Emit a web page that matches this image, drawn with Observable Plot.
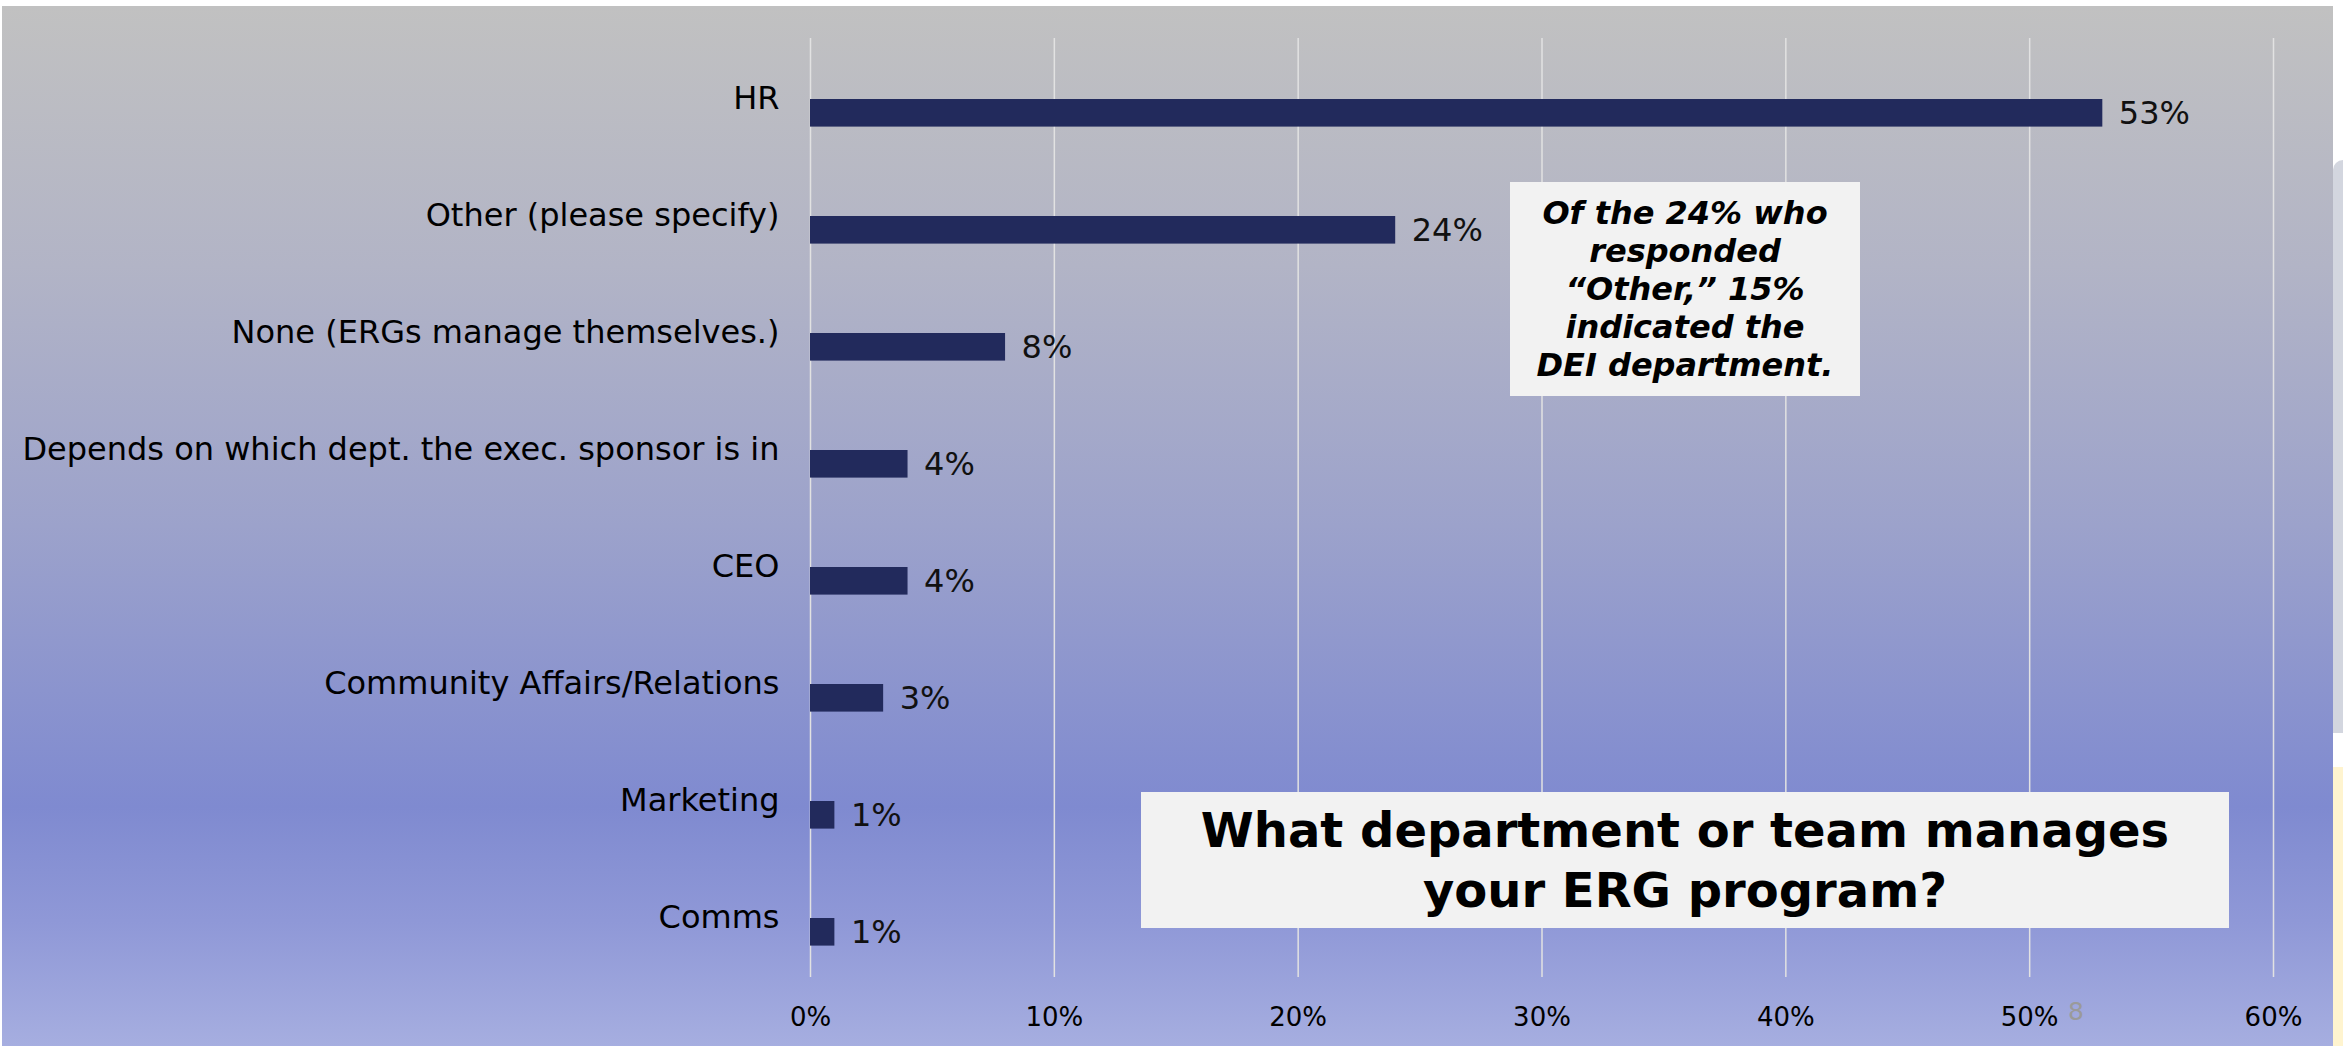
<!DOCTYPE html>
<html>
<head>
<meta charset="utf-8">
<script src="https://cdn.jsdelivr.net/npm/d3@7"></script>
<script src="https://cdn.jsdelivr.net/npm/@observablehq/plot@0.6"></script>
<style>
  html, body { margin: 0; padding: 0; background: #ffffff; }
  #stage { position: relative; width: 2343px; height: 1046px; overflow: hidden; background: #ffffff; font-family: "DejaVu Sans", Verdana, sans-serif; }
  #bg { position: absolute; left: 2px; top: 6px; width: 2331px; height: 1040px;
        background: linear-gradient(to bottom, #c1c1c1 0%, #b2b4c6 25%, #9ca2cb 50%, #7f8ad0 77%, #8f98d7 88%, #a6aee0 100%); }
  #deco1 { position: absolute; left: 2333px; top: 160px; width: 10px; height: 573px; background: #d3d6df; border-top-left-radius: 10px; }
  #deco2 { position: absolute; left: 2333px; top: 767px; width: 10px; height: 279px; background: #fff4cf; }
  #chart { position: absolute; left: 0; top: 0; }
  .box { position: absolute; background: #f2f2f2; display: flex; align-items: center; justify-content: center; text-align: center; color: #000; }
  #note { left: 1510px; top: 182px; width: 350px; height: 214px; font-size: 32px; line-height: 38px; font-weight: bold; font-style: italic; }
  #title { left: 1141px; top: 792px; width: 1088px; height: 136px; font-size: 48px; line-height: 60px; font-weight: bold; }
  #slideno { position: absolute; left: 2068px; top: 999px; font-size: 25px; line-height: 1; color: #9a9a9a; }
</style>
</head>
<body>
<div id="stage">
  <div id="bg"></div>
  <div id="deco1"></div>
  <div id="deco2"></div>
  <div id="chart"></div>
  <div id="note" class="box"><div id="noteText"></div></div>
  <div id="title" class="box"><div id="titleText"></div></div>
  <div id="slideno"></div>
</div>
<script>
const categories = [
  "HR",
  "Other (please specify)",
  "None (ERGs manage themselves.)",
  "Depends on which dept. the exec. sponsor is in",
  "CEO",
  "Community Affairs/Relations",
  "Marketing",
  "Comms"
];
const values = [0.53, 0.24, 0.08, 0.04, 0.04, 0.03, 0.01, 0.01];
const xTicks = [0, 0.1, 0.2, 0.3, 0.4, 0.5, 0.6];
const titleLines = ["What department or team manages", "your ERG program?"];
const noteLines = ["Of the 24% who", "responded", "\u201COther,\u201D 15%", "indicated the", "DEI department."];
const slideNumber = "8";

const data = categories.map((c, i) => ({category: c, value: values[i]}));
const pct = d3.format(".0%");

const chart = Plot.plot({
  width: 2343,
  height: 1046,
  marginLeft: 810,
  marginRight: 70,
  marginTop: 38,
  marginBottom: 69,
  style: {background: "transparent", fontFamily: "'DejaVu Sans', Verdana, sans-serif", color: "#000", overflow: "visible"},
  x: {domain: [0, 0.6]},
  y: {domain: categories, padding: 0},
  marks: [
    Plot.gridX(xTicks, {stroke: "#e2e2e2", strokeOpacity: 1, strokeWidth: 1.5}),
    Plot.barX(data, {x: "value", y: "category", fill: "#222a5c", insetTop: 59, insetBottom: 30.4}),
    Plot.text(data, {x: "value", y: "category", text: d => pct(d.value), dx: 16, dy: 15, textAnchor: "start", fontSize: 32, fill: "#111"}),
    Plot.axisX(xTicks, {tickSize: 0, tickPadding: 30, fontSize: 26, label: null, tickFormat: pct, fill: "#000"}),
    Plot.axisY({tickSize: 0, tickPadding: 31, fontSize: 32, label: null, fill: "#000"})
  ]
});
document.getElementById("chart").appendChild(chart);
document.getElementById("titleText").innerHTML = titleLines.join("<br>");
document.getElementById("noteText").innerHTML = noteLines.join("<br>");
document.getElementById("slideno").textContent = slideNumber;
</script>
</body>
</html>
